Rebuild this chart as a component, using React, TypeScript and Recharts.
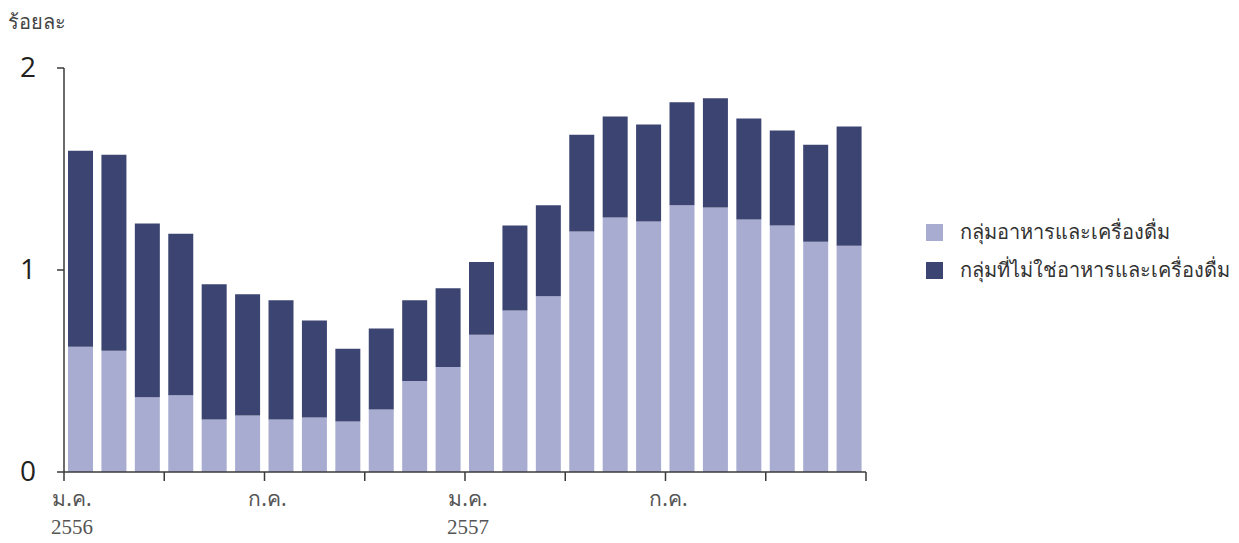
import { BarChart, Bar, XAxis, YAxis } from 'recharts';

// เดือน ม.ค. 2556 – ธ.ค. 2557
const months = [
  'ม.ค. 56', 'ก.พ. 56', 'มี.ค. 56', 'เม.ย. 56', 'พ.ค. 56', 'มิ.ย. 56',
  'ก.ค. 56', 'ส.ค. 56', 'ก.ย. 56', 'ต.ค. 56', 'พ.ย. 56', 'ธ.ค. 56',
  'ม.ค. 57', 'ก.พ. 57', 'มี.ค. 57', 'เม.ย. 57', 'พ.ค. 57', 'มิ.ย. 57',
  'ก.ค. 57', 'ส.ค. 57', 'ก.ย. 57', 'ต.ค. 57', 'พ.ย. 57', 'ธ.ค. 57',
];

const food = [
  0.62, 0.6, 0.37, 0.38, 0.26, 0.28, 0.26, 0.27, 0.25, 0.31, 0.45, 0.52,
  0.68, 0.8, 0.87, 1.19, 1.26, 1.24, 1.32, 1.31, 1.25, 1.22, 1.14, 1.12,
];

const nonFood = [
  0.97, 0.97, 0.86, 0.8, 0.67, 0.6, 0.59, 0.48, 0.36, 0.4, 0.4, 0.39,
  0.36, 0.42, 0.45, 0.48, 0.5, 0.48, 0.51, 0.54, 0.5, 0.47, 0.48, 0.59,
];

const seriesNames = ['กลุ่มอาหารและเครื่องดื่ม', 'กลุ่มที่ไม่ใช่อาหารและเครื่องดื่ม'];
const yTicks = [0, 1, 2];
// index ของเดือนที่มีขีดแบ่ง (ทุก 3 เดือน) และป้ายกำกับ
const quarterStarts = [0, 3, 6, 9, 12, 15, 18, 21];
const xTickLabels: Record<number, string[]> = {
  0: ['ม.ค.', '2556'],
  6: ['ก.ค.'],
  12: ['ม.ค.', '2557'],
  18: ['ก.ค.'],
};

const LIGHT = '#a9acd1';
const DARK = '#3c4571';
const AXIS = '#3a3a3a';
const THAI_FONT = "'Noto Sans', 'Open Sans', sans-serif";

const data = months.map((m, i) => ({ month: m, food: food[i], nonFood: nonFood[i] }));

const YTick = ({ x, y, payload }: any) => (
  <text x={x} y={y - 2} textAnchor="end" dominantBaseline="central"
    fontFamily="'Open Sans', sans-serif" fontSize={28} fill="#231f20">
    {payload.value}
  </text>
);

const XTick = ({ x, y, payload }: any) => {
  const i = payload.index;
  const half = payload.offset || 16.7;
  const left = x - half;
  const lines = xTickLabels[i];
  const dx = i === 0 ? 8 : 3;
  return (
    <g>
      {quarterStarts.includes(i) && <line x1={left} x2={left} y1={y} y2={y + 9} stroke={AXIS} strokeWidth={1.5} />}
      {i === months.length - 1 && <line x1={x + half} x2={x + half} y1={y} y2={y + 9} stroke={AXIS} strokeWidth={1.5} />}
      {lines && (
        <text x={left + dx} y={y + 34} textAnchor="middle" fontFamily={THAI_FONT} fontSize={21} fill="#555">
          {lines[0]}
        </text>
      )}
      {lines && lines[1] && (
        <text x={left + dx} y={y + 62} textAnchor="middle" fontFamily="'Liberation Serif', serif" fontSize={21} fill="#555">
          {lines[1]}
        </text>
      )}
    </g>
  );
};

export default function App() {
  return (
    <div style={{ position: 'relative', width: 1239, height: 543, margin: -8, background: '#fff' }}>
      <div style={{ position: 'absolute', left: 8, top: 6, fontFamily: THAI_FONT, fontSize: 20, color: '#444' }}>
        ร้อยละ
      </div>
      <BarChart width={1239} height={543} data={data}
        margin={{ top: 68, right: 373, left: 0, bottom: 0 }} barCategoryGap="12%">
        <XAxis dataKey="month" height={71} interval={0} tick={<XTick />} tickLine={false}
          tickSize={0} tickMargin={0} axisLine={{ stroke: AXIS, strokeWidth: 1.5 }} />
        <YAxis type="number" domain={[0, 2]} ticks={yTicks} width={64} tickSize={7} tickMargin={21}
          tick={<YTick />} axisLine={{ stroke: AXIS, strokeWidth: 1.5 }} tickLine={{ stroke: AXIS, strokeWidth: 1.5 }} />
        <Bar dataKey="food" stackId="a" fill={LIGHT} isAnimationActive={false} />
        <Bar dataKey="nonFood" stackId="a" fill={DARK} isAnimationActive={false} />
      </BarChart>
      <div style={{ position: 'absolute', left: 926, top: 213, fontFamily: THAI_FONT, fontSize: 20, color: '#333' }}>
        {seriesNames.map((name, i) => (
          <div key={name} style={{ display: 'flex', alignItems: 'center', height: 38 }}>
            <span style={{ display: 'inline-block', width: 17, height: 17, background: i === 0 ? LIGHT : DARK, marginRight: 17 }} />
            <span>{name}</span>
          </div>
        ))}
      </div>
    </div>
  );
}
